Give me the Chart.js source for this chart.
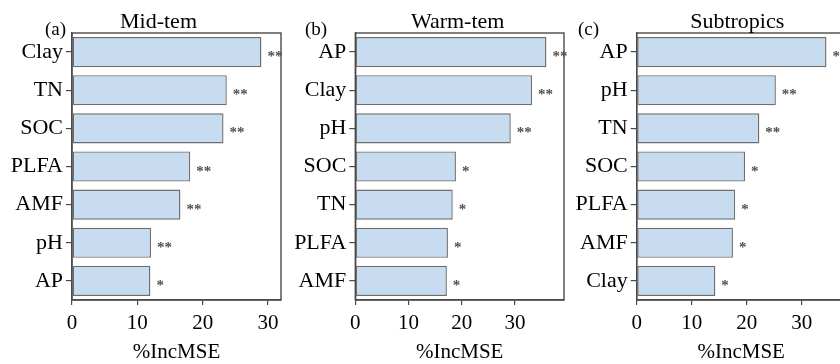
<!DOCTYPE html>
<html>
<head>
<meta charset="utf-8">
<script src="https://cdn.jsdelivr.net/npm/chart.js@4/dist/chart.umd.min.js"></script>
<style>
  html, body { margin: 0; padding: 0; background: #fff; width: 840px; height: 364px; overflow: hidden; }
  .panel { position: absolute; top: 0; height: 364px; }
</style>
</head>
<body>
<div class="panel" id="pa" style="left:0px;width:290px;"><canvas id="ca" width="290" height="364"></canvas></div>
<div class="panel" id="pb" style="left:283px;width:287px;"><canvas id="cb" width="287" height="364"></canvas></div>
<div class="panel" id="pc" style="left:570px;width:285px;"><canvas id="cc" width="285" height="364"></canvas></div>
<script>
// ---- data ----
const midCategories = ['Clay', 'TN', 'SOC', 'PLFA', 'AMF', 'pH', 'AP'];
const midValues     = [29.0, 23.7, 23.2, 18.1, 16.6, 12.1, 12.0];
const midSig        = ['**', '**', '**', '**', '**', '**', '*'];

const warmCategories = ['AP', 'Clay', 'pH', 'SOC', 'TN', 'PLFA', 'AMF'];
const warmValues     = [35.9, 33.2, 29.2, 18.9, 18.3, 17.4, 17.2];
const warmSig        = ['**', '**', '**', '*', '*', '*', '*'];

const subCategories = ['AP', 'pH', 'TN', 'SOC', 'PLFA', 'AMF', 'Clay'];
const subValues     = [34.5, 25.3, 22.3, 19.7, 17.9, 17.5, 14.3];
const subSig        = ['**', '**', '**', '*', '*', '*', '*'];

const xTickValues = [0, 10, 20, 30];
const panelTitles = ['Mid-tem', 'Warm-tem', 'Subtropics'];
const panelTags   = ['(a)', '(b)', '(c)'];
const axisTitle   = '%IncMSE';

// ---- style ----
const SERIF = '"Liberation Serif", "Times New Roman", serif';
const AXIS_COLOR = '#4a4a4a';
const BAR_FILL = '#c7dcf0';
const BAR_EDGE = '#6e6e6e';

const panelPlugin = {
  id: 'panelDecor',
  afterDatasetsDraw(chart, args, opts) {
    const ctx = chart.ctx;
    const meta = chart.getDatasetMeta(0);
    ctx.save();
    ctx.fillStyle = '#505050';
    ctx.font = 'bold 15px ' + SERIF;
    ctx.textAlign = 'left';
    ctx.textBaseline = 'alphabetic';
    meta.data.forEach((bar, i) => {
      ctx.fillText(opts.sig[i], bar.x + 6, bar.y + 9);
    });
    ctx.restore();
  },
  afterDraw(chart, args, opts) {
    const ctx = chart.ctx;
    const a = chart.chartArea;
    ctx.save();
    ctx.strokeStyle = AXIS_COLOR;
    ctx.lineWidth = 1.4;
    ctx.strokeRect(a.left, a.top, a.right - a.left, a.bottom - a.top);
    ctx.fillStyle = '#000';
    ctx.font = '22px ' + SERIF;
    ctx.textAlign = 'center';
    ctx.textBaseline = 'alphabetic';
    ctx.fillText(opts.title, (a.left + a.right) / 2 + opts.titleShift, 28);
    ctx.font = '19px ' + SERIF;
    ctx.textAlign = 'left';
    ctx.fillText(opts.tag, opts.tagX, 35);
    ctx.restore();
  }
};

function makeChart(canvasId, cats, vals, sig, opts) {
  return new Chart(document.getElementById(canvasId), {
    type: 'bar',
    data: {
      labels: cats,
      datasets: [{
        data: vals,
        backgroundColor: BAR_FILL,
        borderColor: BAR_EDGE,
        borderWidth: 1.4,
        borderSkipped: false,
        categoryPercentage: 1.0,
        barPercentage: 0.79
      }]
    },
    options: {
      indexAxis: 'y',
      responsive: false,
      animation: false,
      devicePixelRatio: 1,
      layout: { padding: { top: 33, left: 0, right: opts.padRight, bottom: 0 } },
      plugins: {
        legend: { display: false },
        tooltip: { enabled: false },
        title: { display: false },
        panelDecor: { sig: sig, title: opts.title, titleShift: opts.titleShift, tag: opts.tag, tagX: opts.tagX }
      },
      scales: {
        x: {
          type: 'linear',
          min: 0,
          max: opts.xMax,
          afterBuildTicks(scale) { scale.ticks = xTickValues.map(v => ({ value: v })); },
          afterFit(scale) { scale.height = 64; },
          ticks: {
            includeBounds: false,
            color: '#000',
            font: { family: SERIF, size: 21 },
            padding: 6,
            maxRotation: 0
          },
          grid: { drawOnChartArea: false, drawTicks: true, tickLength: 5, color: AXIS_COLOR, lineWidth: 1.2 },
          border: { display: true, color: AXIS_COLOR, width: 1.4 },
          title: {
            display: true,
            text: axisTitle,
            color: '#000',
            font: { family: SERIF, size: 21, lineHeight: 1.1 },
            padding: { top: 0, bottom: 0 }
          }
        },
        y: {
          type: 'category',
          afterFit(scale) { scale.width = opts.yWidth; },
          ticks: {
            color: '#000',
            font: { family: SERIF, size: 22 },
            padding: 3
          },
          grid: { drawOnChartArea: false, drawTicks: true, tickLength: 6, offset: false, color: AXIS_COLOR, lineWidth: 1.2 },
          border: { display: true, color: AXIS_COLOR, width: 1.4 }
        }
      }
    },
    plugins: [panelPlugin]
  });
}

makeChart('ca', midCategories, midValues, midSig,
  { xMax: 32, yWidth: 72, padRight: 290 - 281, title: panelTitles[0], titleShift: -18, tag: panelTags[0], tagX: 45 });
makeChart('cb', warmCategories, warmValues, warmSig,
  { xMax: 39.2, yWidth: 355.3 - 283, padRight: 287 - 281, title: panelTitles[1], titleShift: -2, tag: panelTags[1], tagX: 305 - 283 });
makeChart('cc', subCategories, subValues, subSig,
  { xMax: 38, yWidth: 636.7 - 570, padRight: 285 - 275.7, title: panelTitles[2], titleShift: -4, tag: panelTags[2], tagX: 578 - 570 });
</script>
</body>
</html>
